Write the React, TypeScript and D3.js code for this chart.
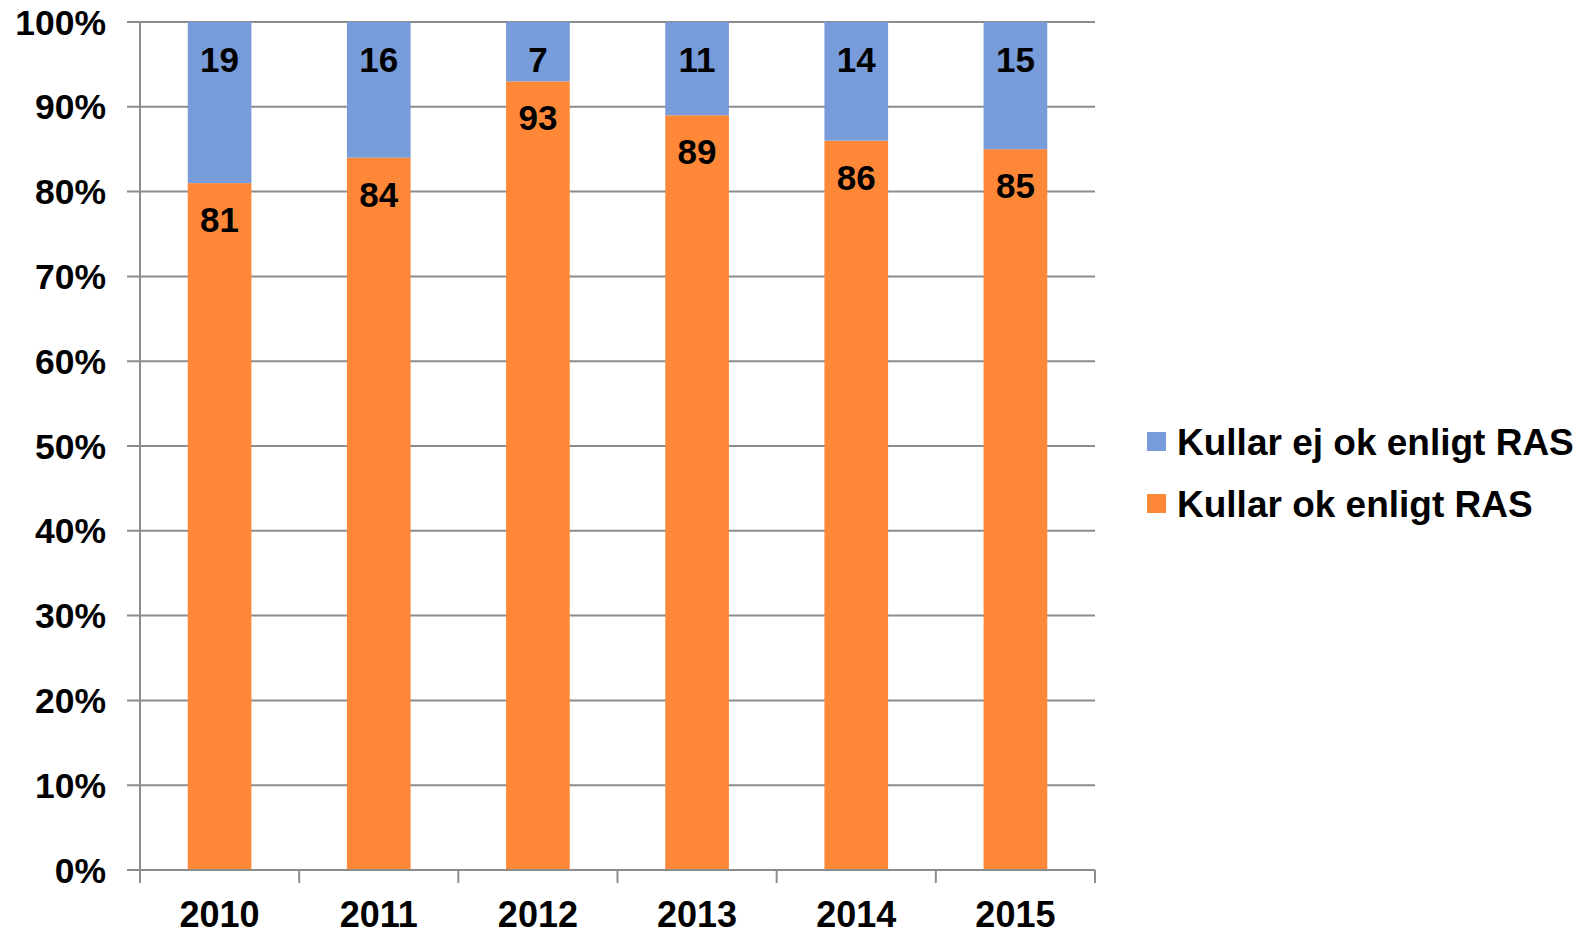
import React from 'react'
import * as d3 from 'd3'

const years = ['2010', '2011', '2012', '2013', '2014', '2015']
const okValues = [81, 84, 93, 89, 86, 85]
const notOkValues = [19, 16, 7, 11, 14, 15]
const yTicks = [0, 10, 20, 30, 40, 50, 60, 70, 80, 90, 100]
const legendLabels = ['Kullar ej ok enligt RAS', 'Kullar ok enligt RAS']

const BLUE = '#789bd9'
const ORANGE = '#fe8838'
const GRID = '#8c8c8c'
const FONT = '"Liberation Sans", Arial, sans-serif'

const width = 1591
const height = 935
const plot = { left: 140, right: 1095, top: 22, bottom: 870 }

const App: React.FC = () => {
  const x = d3.scaleBand<string>()
    .domain(years)
    .range([plot.left, plot.right])
    .paddingInner(0.6)
    .paddingOuter(0.3)

  const y = d3.scaleLinear()
    .domain([0, 100])
    .range([plot.bottom, plot.top])

  const step = (plot.right - plot.left) / years.length

  return (
    <svg
      width={width}
      height={height}
      style={{ position: 'absolute', left: 0, top: 0, background: '#fff' }}
      fontFamily={FONT}
      fontWeight="bold"
      fill="#000"
    >
      {/* gridlines */}
      {yTicks.map(t => (
        <line
          key={t}
          x1={plot.left - 13}
          x2={plot.right}
          y1={y(t)}
          y2={y(t)}
          stroke={GRID}
          strokeWidth={2}
        />
      ))}

      {/* y tick labels */}
      {yTicks.map(t => (
        <text key={t} x={106} y={y(t) + 12.5} textAnchor="end" fontSize={35.5}>
          {t}%
        </text>
      ))}

      {/* bars */}
      {years.map((yr, i) => {
        const bx = x(yr) as number
        const bw = x.bandwidth()
        const okTop = y(okValues[i])
        const topTop = y(okValues[i] + notOkValues[i])
        return (
          <g key={yr}>
            <rect x={bx} y={okTop} width={bw} height={plot.bottom - okTop} fill={ORANGE} />
            <rect x={bx} y={topTop} width={bw} height={okTop - topTop} fill={BLUE} />
            <text x={bx + bw / 2} y={topTop + 50} textAnchor="middle" fontSize={35}>
              {notOkValues[i]}
            </text>
            <text x={bx + bw / 2} y={okTop + 49} textAnchor="middle" fontSize={35}>
              {okValues[i]}
            </text>
          </g>
        )
      })}

      {/* axes */}
      <line x1={plot.left} x2={plot.left} y1={plot.top} y2={plot.bottom + 13} stroke={GRID} strokeWidth={2} />
      <line x1={plot.left - 13} x2={plot.right} y1={plot.bottom} y2={plot.bottom} stroke={GRID} strokeWidth={2} />
      {d3.range(years.length + 1).map(i => (
        <line
          key={i}
          x1={plot.left + i * step}
          x2={plot.left + i * step}
          y1={plot.bottom}
          y2={plot.bottom + 13}
          stroke={GRID}
          strokeWidth={2}
        />
      ))}

      {/* x labels */}
      {years.map(yr => (
        <text key={yr} x={(x(yr) as number) + x.bandwidth() / 2} y={927} textAnchor="middle" fontSize={36}>
          {yr}
        </text>
      ))}

      {/* legend */}
      {legendLabels.map((lab, i) => (
        <g key={lab}>
          <rect x={1147} y={432 + i * 62} width={19} height={19} fill={i === 0 ? BLUE : ORANGE} />
          <text x={1177} y={455 + i * 62} fontSize={37}>{lab}</text>
        </g>
      ))}
    </svg>
  )
}

export default App
